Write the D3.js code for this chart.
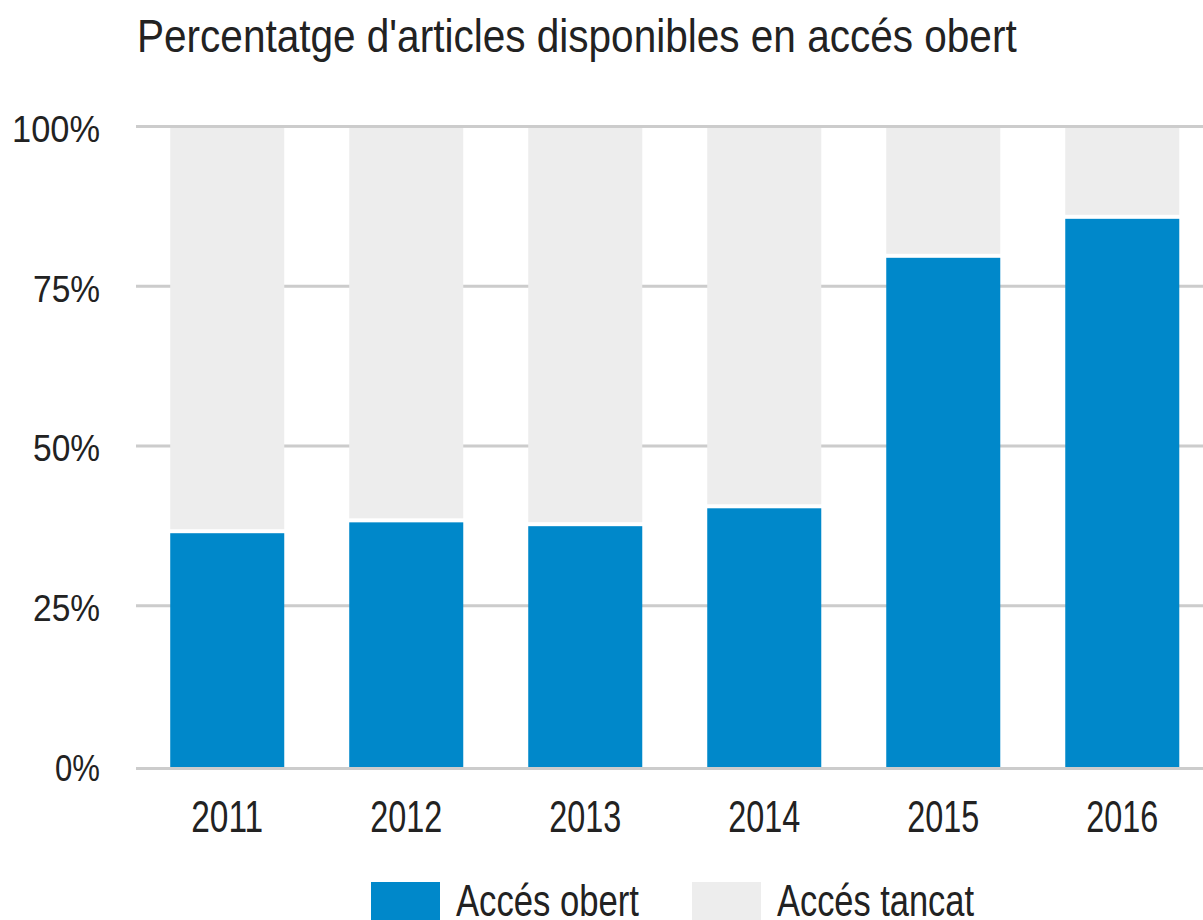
<!DOCTYPE html>
<html>
<head>
<meta charset="utf-8">
<script src="https://cdn.jsdelivr.net/npm/d3@7"></script>
<style>
  html, body { margin: 0; padding: 0; background: #fff; }
  svg { display: block; font-family: "Liberation Sans", Arial, sans-serif; }
</style>
</head>
<body>
<svg id="chart" width="1203" height="920"></svg>
<script>
const years = ["2011", "2012", "2013", "2014", "2015", "2016"];
const openShare = [0.369, 0.386, 0.380, 0.408, 0.800, 0.861];
const yTicks = [0, 0.25, 0.5, 0.75, 1];
const seriesNames = ["Accés obert", "Accés tancat"];
const seriesColors = ["#0088ca", "#ededed"];
const title = "Percentatge d'articles disponibles en accés obert";

const svg = d3.select("#chart");
const W = 1203, H = 920;

const y = d3.scaleLinear().domain([0, 1]).range([767, 128]);
const x = d3.scaleBand().domain(years).range([138, 1211.5]).paddingInner(0.363).paddingOuter(0.18);

// horizontally compress a text element to a target width
function fit(sel, target) {
  sel.each(function () {
    const t = d3.select(this);
    const w = this.getComputedTextLength();
    const s = target / w;
    const ax = +t.attr("x"), ay = +t.attr("y");
    t.attr("transform", `translate(${ax},${ay}) scale(${s},1) translate(${-ax},${-ay})`);
  });
}

// gridlines
const grid = svg.append("g");
grid.selectAll("rect").data(yTicks).join("rect")
  .attr("x", 136).attr("width", W - 136)
  .attr("y", d => d === 0 ? y(0) : y(d) - 3)
  .attr("height", 3)
  .attr("fill", "#cccccc");

// bars
const bars = svg.append("g");
bars.selectAll(".closed").data(years).join("rect")
  .attr("class", "closed")
  .attr("x", d => x(d)).attr("width", x.bandwidth())
  .attr("y", y(1))
  .attr("height", (d, i) => y(openShare[i]) - 2 - y(1))
  .attr("fill", seriesColors[1]);
bars.selectAll(".open").data(years).join("rect")
  .attr("class", "open")
  .attr("x", d => x(d)).attr("width", x.bandwidth())
  .attr("y", (d, i) => y(openShare[i]) + 2)
  .attr("height", (d, i) => y(0) - y(openShare[i]) - 2)
  .attr("fill", seriesColors[0]);

// y labels
const fmt = d3.format(".0%");
const yWidths = {0: 45, 0.25: 67, 0.5: 67, 0.75: 67, 1: 88};
svg.append("g").selectAll("text").data(yTicks).join("text")
  .attr("x", 100).attr("y", d => y(d) + 14)
  .attr("text-anchor", "end")
  .attr("font-size", 37)
  .attr("fill", "#222")
  .text(d => fmt(d))
  .each(function (d) { fit(d3.select(this), yWidths[d]); });

// x labels
svg.append("g").selectAll("text").data(years).join("text")
  .attr("x", d => x(d) + x.bandwidth() / 2).attr("y", 832)
  .attr("text-anchor", "middle")
  .attr("font-size", 45)
  .attr("fill", "#222")
  .text(d => d)
  .call(fit, 72);

// title
svg.append("text")
  .attr("x", 137).attr("y", 52)
  .attr("font-size", 47)
  .attr("fill", "#222")
  .text(title)
  .call(fit, 880);

// legend
const legX = [371, 692];
const legTextW = [183, 197];
const leg = svg.append("g");
seriesNames.forEach((name, i) => {
  leg.append("rect").attr("x", legX[i]).attr("y", 882).attr("width", 69).attr("height", 69)
    .attr("fill", seriesColors[i]);
  leg.append("text").attr("x", legX[i] + 85).attr("y", 916)
    .attr("font-size", 45).attr("fill", "#222").text(name)
    .call(fit, legTextW[i]);
});
</script>
</body>
</html>
